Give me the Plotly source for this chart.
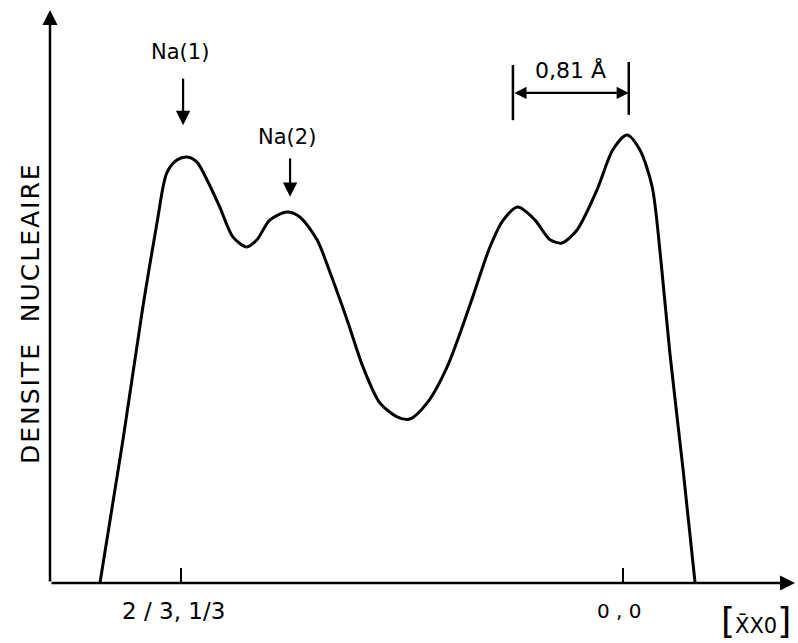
import plotly.graph_objects as go

# Position along [x̄x0] (0 -> 2/3,1/3 ; 1 -> 0,0) and nuclear density (arbitrary units)
x_pos = [-0.183, -0.131, -0.086, -0.054, -0.032, -0.009, 0.014, 0.036, 0.059, 0.088,
         0.118, 0.149, 0.172, 0.201, 0.240, 0.269, 0.308, 0.337, 0.376, 0.412,
         0.450, 0.489, 0.518, 0.557, 0.602, 0.654, 0.699, 0.729, 0.762, 0.801,
         0.835, 0.862, 0.896, 0.941, 0.977, 1.009, 1.038, 1.066, 1.084, 1.106,
         1.136, 1.163]
density = [0.0, 31.9, 61.6, 80.4, 91.5, 94.4, 95.1, 94.0, 90.0, 83.9,
           77.2, 75.0, 76.6, 81.0, 82.8, 81.7, 76.6, 69.4, 58.7, 48.2,
           40.2, 37.1, 36.6, 40.2, 48.2, 62.1, 75.0, 81.0, 83.9, 81.0,
           76.6, 75.9, 78.8, 87.7, 96.7, 100.0, 96.7, 88.4, 73.7, 51.3,
           25.2, 0.0]

tick_vals = [0, 1]
tick_labels = ["2 / 3, 1/3", "0 , 0"]
site_labels = ["Na(1)", "Na(2)"]
site_x = [0.005, 0.247]
y_title = "DENSITE  NUCLEAIRE"
dist_label = "0,81 Å"

XMIN, XMAX = -0.296, 1.389
YMIN, YMAX = 0.0, 127.9

fig = go.Figure()
fig.add_trace(go.Scatter(
    x=x_pos, y=density, mode="lines",
    line=dict(color="black", width=3, shape="spline", smoothing=0.8),
    hoverinfo="skip", showlegend=False,
))

font = "DejaVu Sans"
ann = []
# axes with arrows
ann.append(dict(x=XMIN, y=YMAX, ax=XMIN, ay=0, xref="x", yref="y", axref="x", ayref="y",
                showarrow=True, arrowhead=2, arrowsize=1.2, arrowwidth=2.5, arrowcolor="black", text=""))
ann.append(dict(x=XMAX, y=0, ax=XMIN, ay=0, xref="x", yref="y", axref="x", ayref="y",
                showarrow=True, arrowhead=2, arrowsize=1.2, arrowwidth=2.5, arrowcolor="black", text=""))
# tick labels
ann.append(dict(x=tick_vals[0], y=0, xref="x", yref="y", yshift=-28, text=tick_labels[0],
                showarrow=False, font=dict(family=font, size=23, color="black"), xshift=-7))
ann.append(dict(x=tick_vals[1], y=0, xref="x", yref="y", yshift=-28, text=tick_labels[1],
                showarrow=False, font=dict(family=font, size=20, color="black"), xshift=-4))
# axis label [x̄x0]
ann.append(dict(x=XMAX, y=0, xref="x", yref="y", xanchor="right", yanchor="middle", yshift=-37, xshift=-2,
                text="<span style='font-size:36px'>[</span>X\u0304X0<span style='font-size:36px'>]</span>",
                showarrow=False, font=dict(family=font, size=21, color="black")))
# y title
ann.append(dict(x=0, y=0.471, xref="paper", yref="paper", xanchor="center", yanchor="middle",
                xshift=-20, text="<span style='letter-spacing:2px'>" + y_title + "</span>", textangle=-90,
                showarrow=False, font=dict(family=font, size=25, color="black")))
# site labels and arrows
label_y = [118.5, 99.6]
arrow_top = [112.9, 95.1]
arrow_bot = [102.2, 86.2]
for lab, sx, ly, at, ab in zip(site_labels, site_x, label_y, arrow_top, arrow_bot):
    ann.append(dict(x=sx - 0.007, y=ly, xref="x", yref="y", text=lab, showarrow=False,
                    font=dict(family=font, size=21, color="black")))
    ann.append(dict(x=sx, y=ab, ax=sx, ay=at, xref="x", yref="y", axref="x", ayref="y",
                    showarrow=True, arrowhead=2, arrowsize=1.3, arrowwidth=2.2, arrowcolor="black", text=""))
# 0,81 Å distance marker
xl, xr = 0.751, 1.013
fig.add_shape(type="line", x0=xl, x1=xl, y0=103.3, y1=115.6, line=dict(color="black", width=2.5))
fig.add_shape(type="line", x0=xr, x1=xr, y0=104.5, y1=116.3, line=dict(color="black", width=2.5))
ann.append(dict(x=xr, y=109.4, ax=xl, ay=109.4, xref="x", yref="y", axref="x", ayref="y",
                showarrow=True, arrowhead=2, startarrowhead=2, arrowside="end+start",
                arrowsize=1.1, startarrowsize=1.1, arrowwidth=2.2, arrowcolor="black", text=""))
ann.append(dict(x=(xl + xr) / 2, y=114.5, xref="x", yref="y", text=dist_label, showarrow=False,
                font=dict(family=font, size=22, color="black")))

fig.update_layout(
    width=798, height=643,
    margin=dict(l=50, r=3, t=10, b=60),
    paper_bgcolor="white", plot_bgcolor="white",
    annotations=ann,
    xaxis=dict(range=[XMIN, XMAX], showgrid=False, zeroline=False, showline=False,
               tickvals=tick_vals, ticktext=["", ""], ticks="inside", ticklen=15,
               tickwidth=2, tickcolor="black", showticklabels=False, fixedrange=True),
    yaxis=dict(range=[YMIN, YMAX], showgrid=False, zeroline=False, showline=False,
               showticklabels=False, ticks="", fixedrange=True),
)
fig.write_html("out.html", config={"displayModeBar": False},
               post_script="document.body.style.margin='0px';document.body.style.overflow='hidden';")
